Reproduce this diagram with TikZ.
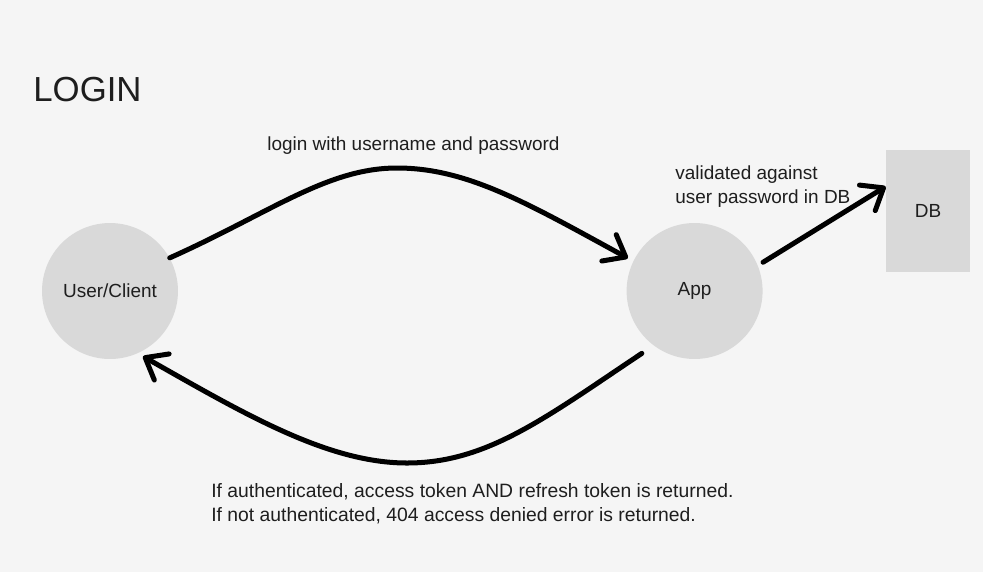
\documentclass[tikz,border=0pt]{standalone}
\usepackage{fontspec}
\setmainfont{Liberation Sans}
\usetikzlibrary{arrows.meta}
\usetikzlibrary{positioning}
\usetikzlibrary{calc}
\definecolor{bggray}{HTML}{F5F5F5}
\definecolor{boxgray}{HTML}{D9D9D9}
\definecolor{inkgray}{HTML}{1E1E1E}
\tikzstyle{flow} = [line width=2.85pt, line cap=round, -{Straight Barb[length=0.38cm, width=0.6cm, round]}]
\tikzstyle{actor} = [circle, fill=boxgray, minimum size=2.72cm, inner sep=0pt, text=inkgray]
\tikzstyle{store} = [rectangle, fill=boxgray, minimum width=1.68cm, minimum height=2.46cm, text=inkgray]
\tikzstyle{note} = [anchor=base west, inner sep=0pt, text=inkgray, align=left]

\begin{document}
\begin{tikzpicture}[x=0.02cm, y=-0.02cm, font=\fontsize{10.8}{13.4}\selectfont]

	% Canvas
	\fill[bggray] (0,0) rectangle (983,572);
	\useasboundingbox (0,0) rectangle (983,572);

	% Title
	\node[note, font=\fontsize{19.8}{24}\selectfont] (title) at (33,101) {LOGIN};

	% Actors
	\node[actor] (user) at (110,291) {User/Client};
	\node[actor, right = 8.96 cm of user] (app) {App};
	\node[store] (db) at (928,211) {DB};

	% Login request
	\coordinate (reqtop) at (397,168);
	\draw[flow, shorten > = 0.12cm] (user.29) .. controls (270,213) and (327,168) .. (reqtop)
		.. controls (467,168) and (527,203) .. (app.154);
	\node[note] (reqlabel) at (267,150) {login with username and password};

	% Password check
	\draw[flow, shorten < = 0.12cm] (app.22) -- (db.150);
	\node[note] (dblabel) at (675,203) {validated against\\user password in DB};

	% Response
	\coordinate (respbottom) at (407,463);
	\draw[flow, shorten < = 0.28cm, shorten > = 0.12cm] (app.-127) .. controls (545,418) and (487,463) .. (respbottom)
		.. controls (327,463) and (243,413) .. (user.-66);
	\node[note, font=\fontsize{11}{13.6}\selectfont] (resplabel) at (211,521) {If authenticated, access token AND refresh token is returned.\\If not authenticated, 404 access denied error is returned.};

\end{tikzpicture}
\end{document}
